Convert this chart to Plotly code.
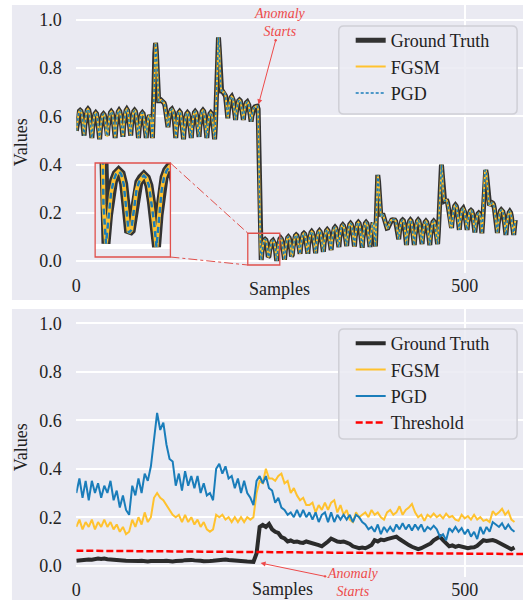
import plotly.graph_objects as go

W, H = 527, 600
def px(x): return x / W
def py(y): return 1 - y / H

# ---------------- data ----------------
# top panel: reconstruction (per sample)
gt_top = [
    0.540, 0.574, 0.600, 0.614, 0.622, 0.625, 0.622, 0.610, 0.583, 0.553,
    0.520, 0.564, 0.597, 0.616, 0.626, 0.630, 0.626, 0.610, 0.575, 0.537,
    0.510, 0.552, 0.584, 0.601, 0.611, 0.615, 0.611, 0.596, 0.563, 0.526,
    0.505, 0.547, 0.579, 0.596, 0.606, 0.610, 0.606, 0.591, 0.558, 0.521,
    0.520, 0.560, 0.590, 0.607, 0.616, 0.620, 0.616, 0.602, 0.570, 0.535,
    0.510, 0.556, 0.591, 0.610, 0.620, 0.625, 0.620, 0.604, 0.568, 0.527,
    0.515, 0.561, 0.596, 0.615, 0.625, 0.630, 0.625, 0.609, 0.573, 0.532,
    0.520, 0.562, 0.594, 0.611, 0.621, 0.625, 0.621, 0.606, 0.573, 0.536,
    0.510, 0.552, 0.584, 0.601, 0.611, 0.615, 0.611, 0.596, 0.563, 0.526,
    0.510, 0.550, 0.580, 0.597, 0.605, 0.600, 0.585, 0.550, 0.510, 0.580,
    0.720, 0.860, 0.905, 0.870, 0.780, 0.700, 0.665, 0.665, 0.668, 0.668,
    0.665, 0.663, 0.660, 0.655, 0.645, 0.620, 0.590, 0.565, 0.555, 0.585,
    0.608, 0.620, 0.627, 0.630, 0.627, 0.617, 0.593, 0.566,
    0.510, 0.554, 0.587, 0.606, 0.616, 0.620, 0.616, 0.600, 0.565, 0.527,
    0.505, 0.549, 0.582, 0.601, 0.611, 0.615, 0.611, 0.595, 0.560, 0.522,
    0.510, 0.554, 0.587, 0.606, 0.616, 0.620, 0.616, 0.600, 0.565, 0.527,
    0.515, 0.559, 0.592, 0.611, 0.621, 0.625, 0.621, 0.605, 0.570, 0.532,
    0.510, 0.552, 0.584, 0.601, 0.611, 0.615, 0.611, 0.596, 0.563, 0.526,
    0.505, 0.560, 0.660, 0.800, 0.910, 0.928, 0.880, 0.780, 0.720, 0.705,
    0.705, 0.700, 0.700, 0.695, 0.685, 0.655, 0.615,
    0.592, 0.628, 0.655, 0.670, 0.678, 0.682, 0.678, 0.666, 0.637, 0.606,
    0.585, 0.618, 0.643, 0.657, 0.665, 0.668, 0.665, 0.653, 0.627, 0.597,
    0.585, 0.615, 0.638, 0.650, 0.657, 0.660, 0.657, 0.647, 0.623, 0.596,
    0.578, 0.600, 0.618, 0.630, 0.636, 0.640, 0.641, 0.642, 0.642, 0.630,
    0.500, 0.250, 0.050,
    0.004, 0.038, 0.064, 0.079, 0.087, 0.090, 0.087, 0.075, 0.047, 0.017,
    0.020, 0.046, 0.066, 0.077, 0.082, 0.085, 0.082, 0.073, 0.053, 0.030,
    0.000, 0.038, 0.067, 0.083, 0.091, 0.095, 0.091, 0.078, 0.048, 0.014,
    0.005, 0.043, 0.072, 0.088, 0.096, 0.100, 0.096, 0.083, 0.053, 0.019,
    0.025, 0.058, 0.083, 0.097, 0.105, 0.108, 0.105, 0.093, 0.067, 0.037,
    0.030, 0.064, 0.090, 0.104, 0.112, 0.115, 0.112, 0.100, 0.073, 0.043,
    0.030, 0.067, 0.094, 0.110, 0.118, 0.122, 0.118, 0.105, 0.076, 0.044,
    0.032, 0.069, 0.097, 0.113, 0.121, 0.125, 0.121, 0.108, 0.079, 0.046,
    0.038, 0.075, 0.102, 0.118, 0.126, 0.130, 0.126, 0.113, 0.084, 0.052,
    0.045, 0.083, 0.112, 0.128, 0.136, 0.140, 0.136, 0.123, 0.093, 0.059,
    0.058, 0.095, 0.122, 0.138, 0.146, 0.150, 0.146, 0.133, 0.104, 0.072,
    0.062, 0.100, 0.128, 0.144, 0.152, 0.156, 0.152, 0.139, 0.109, 0.076,
    0.060, 0.100, 0.130, 0.147, 0.156, 0.160, 0.156, 0.142, 0.110, 0.075,
    0.055, 0.097, 0.129, 0.146, 0.156, 0.160, 0.156, 0.141, 0.108, 0.071,
    0.058, 0.100, 0.132, 0.150, 0.160, 0.150, 0.100, 0.060, 0.160, 0.300,
    0.357, 0.330, 0.270, 0.210,
    0.185, 0.190, 0.192, 0.190, 0.180, 0.165, 0.150, 0.140, 0.136, 0.137,
    0.145, 0.155, 0.163, 0.168, 0.170, 0.171, 0.172, 0.172, 0.170, 0.165,
    0.150, 0.125, 0.100,
    0.090, 0.122, 0.146, 0.160, 0.167, 0.170, 0.167, 0.156, 0.130, 0.102,
    0.066, 0.108, 0.139, 0.156, 0.166, 0.170, 0.166, 0.151, 0.118, 0.082,
    0.066, 0.108, 0.139, 0.156, 0.166, 0.170, 0.166, 0.151, 0.118, 0.082,
    0.070, 0.108, 0.137, 0.153, 0.161, 0.165, 0.161, 0.148, 0.118, 0.084,
    0.066, 0.106, 0.135, 0.152, 0.161, 0.165, 0.161, 0.147, 0.116, 0.081,
    0.070, 0.120, 0.200, 0.310, 0.385, 0.400, 0.360, 0.290, 0.260, 0.250,
    0.252, 0.253, 0.250, 0.240, 0.220, 0.190, 0.160, 0.140,
    0.137, 0.175, 0.204, 0.220, 0.228, 0.232, 0.228, 0.215, 0.185, 0.151,
    0.129, 0.165, 0.191, 0.206, 0.214, 0.218, 0.214, 0.202, 0.174, 0.142,
    0.129, 0.161, 0.186, 0.199, 0.207, 0.210, 0.207, 0.196, 0.170, 0.141,
    0.118, 0.150, 0.175, 0.188, 0.196, 0.199, 0.196, 0.185, 0.160,
    0.115, 0.160, 0.250, 0.340, 0.375, 0.378, 0.360, 0.320, 0.270, 0.240,
    0.230, 0.235, 0.240, 0.242, 0.240, 0.235, 0.220, 0.190, 0.150, 0.125,
    0.116,
    0.154, 0.183, 0.198, 0.208, 0.212, 0.210, 0.205, 0.190, 0.160, 0.125,
    0.108, 0.146, 0.175, 0.190, 0.200, 0.205, 0.200, 0.185, 0.150, 0.115,
    0.108, 0.140, 0.170,
]
fgsm_top = list(gt_top)   # visually identical to ground truth
pgd_top = list(gt_top)

# bottom panel: anomaly scores (every 4th sample)
gt_bot = [
    0.020, 0.022, 0.020, 0.024, 0.026, 0.025, 0.028, 0.030, 0.028, 0.030,
    0.027, 0.025, 0.024, 0.022, 0.020, 0.021, 0.020, 0.019, 0.020, 0.018,
    0.019, 0.020, 0.018, 0.017, 0.019, 0.018, 0.017, 0.018, 0.019, 0.020,
    0.018, 0.017, 0.019, 0.018, 0.020, 0.023, 0.025, 0.024, 0.022, 0.019,
    0.020, 0.018, 0.017, 0.019, 0.020, 0.022, 0.025, 0.027, 0.026, 0.024,
    0.022, 0.020, 0.019, 0.020, 0.018, 0.017, 0.018, 0.016, 0.050, 0.160,
    0.168, 0.160, 0.172, 0.150, 0.140, 0.135, 0.118, 0.112, 0.100, 0.104,
    0.098, 0.100, 0.096, 0.094, 0.100, 0.097, 0.095, 0.090, 0.085, 0.080,
    0.088, 0.100, 0.112, 0.105, 0.100, 0.098, 0.100, 0.095, 0.090, 0.080,
    0.075, 0.072, 0.075, 0.072, 0.078, 0.085, 0.105, 0.100, 0.108, 0.105,
    0.110, 0.112, 0.115, 0.120, 0.110, 0.100, 0.090, 0.085, 0.078, 0.072,
    0.068, 0.072, 0.080, 0.085, 0.092, 0.105, 0.115, 0.120, 0.105, 0.090,
    0.080, 0.084, 0.078, 0.082, 0.080, 0.074, 0.072, 0.075, 0.076, 0.082,
    0.095, 0.105, 0.102, 0.104, 0.106, 0.102, 0.095, 0.090, 0.082, 0.075,
    0.068, 0.075,
]
fgsm_bot = [
    0.16, 0.19, 0.15, 0.18, 0.16, 0.19, 0.15, 0.18, 0.16, 0.19,
    0.16, 0.18, 0.15, 0.17, 0.14, 0.16, 0.13, 0.14, 0.19, 0.16,
    0.20, 0.17, 0.22, 0.18, 0.20, 0.28, 0.30, 0.28, 0.27, 0.25,
    0.23, 0.21, 0.20, 0.21, 0.18, 0.21, 0.18, 0.20, 0.17, 0.19,
    0.16, 0.18, 0.15, 0.14, 0.15, 0.21, 0.20, 0.21, 0.19, 0.20,
    0.18, 0.20, 0.18, 0.20, 0.18, 0.20, 0.19, 0.20, 0.30, 0.35,
    0.34, 0.40, 0.36, 0.36, 0.35, 0.37, 0.38, 0.34, 0.35, 0.30,
    0.32, 0.29, 0.27, 0.28, 0.25, 0.25, 0.26, 0.22, 0.25, 0.23,
    0.26, 0.23, 0.26, 0.27, 0.22, 0.25, 0.21, 0.23, 0.19, 0.18,
    0.22, 0.20, 0.21, 0.22, 0.20, 0.23, 0.21, 0.22, 0.20, 0.19,
    0.22, 0.23, 0.21, 0.22, 0.245, 0.21, 0.23, 0.24, 0.255, 0.22,
    0.20, 0.21, 0.185, 0.21, 0.20, 0.215, 0.20, 0.21, 0.195, 0.215,
    0.20, 0.205, 0.19, 0.185, 0.21, 0.195, 0.205, 0.19, 0.21, 0.19,
    0.20, 0.185, 0.19, 0.18, 0.225, 0.21, 0.22, 0.235, 0.21, 0.225,
    0.19, 0.18,
]
pgd_bot = [
    0.30, 0.36, 0.28, 0.35, 0.27, 0.35, 0.30, 0.34, 0.28, 0.33,
    0.30, 0.35, 0.27, 0.31, 0.24, 0.29, 0.23, 0.21, 0.33, 0.29,
    0.36, 0.30, 0.38, 0.35, 0.41, 0.53, 0.63, 0.56, 0.59, 0.50,
    0.44, 0.43, 0.33, 0.38, 0.31, 0.39, 0.33, 0.37, 0.32, 0.37,
    0.30, 0.34, 0.29, 0.30, 0.27, 0.40, 0.42, 0.38, 0.41, 0.36,
    0.37, 0.32, 0.36, 0.30, 0.35, 0.30, 0.28, 0.25, 0.35, 0.37,
    0.34, 0.37, 0.32, 0.31, 0.26, 0.28, 0.24, 0.23, 0.21, 0.22,
    0.20, 0.23, 0.20, 0.23, 0.20, 0.22, 0.19, 0.22, 0.18, 0.21,
    0.22, 0.18, 0.22, 0.18, 0.21, 0.19, 0.21, 0.19, 0.21, 0.18,
    0.21, 0.20, 0.18, 0.17, 0.15, 0.16, 0.14, 0.17, 0.13, 0.16,
    0.14, 0.16, 0.14, 0.17, 0.15, 0.175, 0.15, 0.17, 0.145, 0.17,
    0.15, 0.17, 0.14, 0.16, 0.15, 0.165, 0.15, 0.12, 0.13, 0.105,
    0.155, 0.14, 0.16, 0.14, 0.155, 0.13, 0.15, 0.12, 0.14, 0.11,
    0.16, 0.13, 0.16, 0.14, 0.18, 0.17, 0.16, 0.175, 0.15, 0.17,
    0.15, 0.14,
]
threshold_x = [0, 575]
threshold_y = [0.062, 0.048]

x_tickvals = [0, 500]
x_ticktext = ["0", "500"]
y_tickvals = [0.0, 0.2, 0.4, 0.6, 0.8, 1.0]
y_ticktext = ["0.0", "0.2", "0.4", "0.6", "0.8", "1.0"]

x_top = list(range(len(gt_top)))
x_bot_gt = [4 * i for i in range(len(gt_bot))]
x_bot_fgsm = [4 * i for i in range(len(fgsm_bot))]
x_bot_pgd = [4 * i for i in range(len(pgd_bot))]

# ---------------- styles ----------------
FONT = "Liberation Serif, Times New Roman, serif"
BG = "#EAEAF2"
C_GT = "#333333"
C_GT2 = "#2B2B2B"
C_FGSM = "#FFC22E"
C_PGD = "#1A7DBA"
C_THR = "#FF0000"
C_ANN = "#EE4A4A"
C_BOX = "#E0504C"
TXT = "#222222"

fig = go.Figure()

# top panel
fig.add_trace(go.Scatter(x=x_top, y=gt_top, mode="lines", name="Ground Truth",
                         line=dict(color=C_GT, width=5), xaxis="x", yaxis="y", legend="legend"))
fig.add_trace(go.Scatter(x=x_top, y=fgsm_top, mode="lines", name="FGSM",
                         line=dict(color=C_FGSM, width=2), xaxis="x", yaxis="y", legend="legend"))
fig.add_trace(go.Scatter(x=x_top, y=pgd_top, mode="lines", name="PGD",
                         line=dict(color=C_PGD, width=1.5, dash="3px,2px"), xaxis="x", yaxis="y", legend="legend"))

# inset (zoom of the anomaly start)
fig.add_trace(go.Scatter(x=x_top, y=gt_top, mode="lines", showlegend=False,
                         line=dict(color=C_GT, width=9), xaxis="x3", yaxis="y3"))
fig.add_trace(go.Scatter(x=x_top, y=fgsm_top, mode="lines", showlegend=False,
                         line=dict(color=C_FGSM, width=4), xaxis="x3", yaxis="y3"))
fig.add_trace(go.Scatter(x=x_top, y=pgd_top, mode="lines", showlegend=False,
                         line=dict(color=C_PGD, width=2.5, dash="6px,4px"), xaxis="x3", yaxis="y3"))

# bottom panel
fig.add_trace(go.Scatter(x=x_bot_gt, y=gt_bot, mode="lines", name="Ground Truth",
                         line=dict(color=C_GT2, width=4), xaxis="x2", yaxis="y2", legend="legend2"))
fig.add_trace(go.Scatter(x=x_bot_fgsm, y=fgsm_bot, mode="lines", name="FGSM",
                         line=dict(color=C_FGSM, width=2), xaxis="x2", yaxis="y2", legend="legend2"))
fig.add_trace(go.Scatter(x=x_bot_pgd, y=pgd_bot, mode="lines", name="PGD",
                         line=dict(color=C_PGD, width=2), xaxis="x2", yaxis="y2", legend="legend2"))
fig.add_trace(go.Scatter(x=threshold_x, y=threshold_y, mode="lines", name="Threshold",
                         line=dict(color=C_THR, width=2.5, dash="7px,3px"), xaxis="x2", yaxis="y2", legend="legend2"))

tickfont = dict(family=FONT, size=18, color=TXT)
xcommon = dict(range=[0, 575], tickmode="array", tickvals=x_tickvals, ticktext=x_ticktext,
               showgrid=True, gridcolor="white", gridwidth=1.6, zeroline=False, showline=False,
               ticks="", tickfont=tickfont)
ycommon = dict(tickmode="array", tickvals=y_tickvals, ticktext=y_ticktext,
               showgrid=True, gridcolor="white", gridwidth=1.6, zeroline=False, showline=False,
               ticks="outside", ticklen=10, tickcolor="rgba(0,0,0,0)", tickfont=tickfont)

fig.update_layout(
    width=W, height=H, margin=dict(l=0, r=0, t=0, b=0),
    paper_bgcolor="white", plot_bgcolor=BG,
    xaxis=dict(domain=[px(72), px(523)], anchor="y", **xcommon),
    yaxis=dict(domain=[py(273), py(5)], anchor="x", range=[-0.0498, 1.062], **ycommon),
    xaxis2=dict(domain=[px(72), px(523)], anchor="y2", **xcommon),
    yaxis2=dict(domain=[py(577), py(309)], anchor="x2", range=[-0.0466, 1.059], **ycommon),
    xaxis3=dict(domain=[px(91), px(167)], anchor="y3", range=[233.7, 263.5],
                showticklabels=False, showgrid=False, zeroline=False, showline=False, ticks=""),
    yaxis3=dict(domain=[py(257), py(163)], anchor="x3", range=[-0.012, 0.100],
                tickvals=[0], showticklabels=False, showgrid=True, gridcolor="white", gridwidth=5,
                zeroline=False, showline=False, ticks=""),
    legend=dict(x=px(349), y=py(22), xanchor="left", yanchor="top",
                bgcolor="rgba(0,0,0,0)", borderwidth=0,
                font=dict(family=FONT, size=18, color=TXT)),
    legend2=dict(x=px(349), y=py(325), xanchor="left", yanchor="top",
                 bgcolor="rgba(0,0,0,0)", borderwidth=0,
                 font=dict(family=FONT, size=18, color=TXT)),
    showlegend=True,
)

def rounded_rect(x0, y0, x1, y1, r=5):
    # pixel coords -> paper path with rounded corners
    rx, ry = r / W, r / H
    X0, X1 = px(x0), px(x1)
    Yt, Yb = py(y0), py(y1)
    return (f"M{X0+rx},{Yt} L{X1-rx},{Yt} Q{X1},{Yt} {X1},{Yt-ry} "
            f"L{X1},{Yb+ry} Q{X1},{Yb} {X1-rx},{Yb} L{X0+rx},{Yb} "
            f"Q{X0},{Yb} {X0},{Yb+ry} L{X0},{Yt-ry} Q{X0},{Yt} {X0+rx},{Yt} Z")

shapes = [
    # grey panels (figure face)
    dict(type="rect", xref="paper", yref="paper", x0=px(7), x1=px(523), y0=py(300), y1=py(5),
         fillcolor=BG, line=dict(width=0), layer="below"),
    dict(type="rect", xref="paper", yref="paper", x0=px(7), x1=px(523), y0=py(600), y1=py(309),
         fillcolor=BG, line=dict(width=0), layer="below"),
    # legend frames
    dict(type="path", xref="paper", yref="paper", path=rounded_rect(337, 26, 517, 114),
         fillcolor="rgba(234,234,242,0.85)", line=dict(color="#CFCFD6", width=1.5), layer="above"),
    dict(type="path", xref="paper", yref="paper", path=rounded_rect(337, 329, 517, 439),
         fillcolor="rgba(234,234,242,0.85)", line=dict(color="#CFCFD6", width=1.5), layer="above"),
    # zoom region box on the main axes
    dict(type="rect", xref="x", yref="y", x0=220.7, x1=261.9, y0=-0.0166, y1=0.115,
         line=dict(color=C_BOX, width=1.3), fillcolor="rgba(0,0,0,0)", layer="above"),
    # inset frame
    dict(type="rect", xref="paper", yref="paper", x0=px(91), x1=px(167), y0=py(257), y1=py(163),
         line=dict(color=C_BOX, width=1.3), fillcolor="rgba(0,0,0,0)", layer="above"),
    # connectors
    dict(type="line", xref="paper", yref="paper", x0=px(167), y0=py(163), x1=px(245), y1=py(233),
         line=dict(color=C_BOX, width=1, dash="dashdot"), layer="above"),
    dict(type="line", xref="paper", yref="paper", x0=px(167), y0=py(257), x1=px(245), y1=py(265),
         line=dict(color=C_BOX, width=1, dash="dashdot"), layer="above"),
]
fig.update_layout(shapes=shapes)

annfont = dict(family=FONT, size=14, color=C_ANN)
labfont = dict(family=FONT, size=18, color=TXT)
annotations = [
    dict(text="<i>Anomaly<br>Starts</i>", x=234.5, y=0.65, xref="x", yref="y",
         ax=22, ay=-82, showarrow=True, arrowhead=2, arrowsize=1, arrowwidth=1,
         arrowcolor=C_ANN, arrowside="end+start", startarrowhead=6, startarrowsize=0.6,
         font=annfont, align="center"),
    dict(text="<i>Anomaly<br>Starts</i>", x=237.2, y=0.011, xref="x2", yref="y2",
         ax=92, ay=19, showarrow=True, arrowhead=2, arrowsize=1, arrowwidth=1,
         arrowcolor=C_ANN, arrowside="end+start", startarrowhead=6, startarrowsize=0.6,
         font=annfont, align="center"),
    dict(text="Samples", x=px(277), y=py(289), xref="paper", yref="paper",
         showarrow=False, font=labfont, xanchor="center", yanchor="middle"),
    dict(text="Samples", x=px(280), y=py(589), xref="paper", yref="paper",
         showarrow=False, font=labfont, xanchor="center", yanchor="middle"),
    dict(text="Values", x=px(16.5), y=py(142), xref="paper", yref="paper", textangle=-90,
         showarrow=False, font=labfont, xanchor="center", yanchor="middle"),
    dict(text="Values", x=px(16.5), y=py(447), xref="paper", yref="paper", textangle=-90,
         showarrow=False, font=labfont, xanchor="center", yanchor="middle"),
]
fig.update_layout(annotations=annotations)

fig.write_html("out.html")
